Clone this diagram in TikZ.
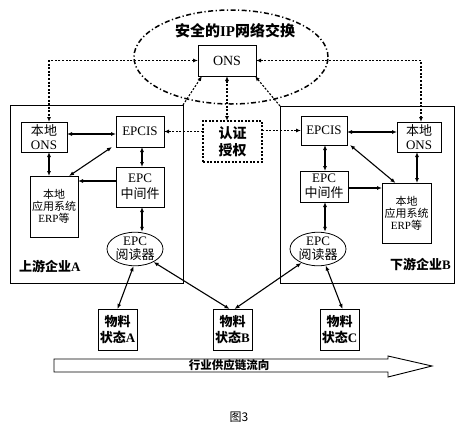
\documentclass[tikz,border=0pt]{standalone}
\usepackage{fontspec}
\setmainfont{Liberation Serif}
\newfontfamily\cjk{Noto Sans CJK SC}
\usetikzlibrary{arrows.meta,shapes.geometric}
\newcommand\zh[1]{{\cjk #1}}
\begin{document}
\begin{tikzpicture}[x=1pt,y=-1pt,
  box/.style={draw,line width=0.8pt,inner sep=0pt,outer sep=0pt,align=center,font=\fontsize{13}{14}\selectfont},
  frame/.style={draw,line width=0.8pt,inner sep=0pt,outer sep=0pt},
  dotl/.style={line width=1.1pt,dash pattern=on 2pt off 1.6pt},
  con/.style={line width=1.1pt},
  tip/.style={-{Latex[length=5pt,width=4pt]}},
  tips/.style={{Latex[length=5pt,width=4pt]}-{Latex[length=5pt,width=4pt]}},
  rd/.style={draw,ellipse,line width=0.8pt,inner sep=0pt,align=center,minimum width=56,minimum height=33,font=\fontsize{13}{14}\selectfont},
  mat/.style={box,minimum width=39,minimum height=41,font=\bfseries\fontsize{13}{16}\selectfont},
  lab/.style={font=\bfseries\fontsize{13}{15}\selectfont,inner sep=0pt}
]
\path[use as bounding box] (0,0) rectangle (457,429);
% enterprise frames
\node[frame,minimum width=173,minimum height=178] (entA) at (96.5,194) {};
\node[frame,minimum width=174,minimum height=177] (entB) at (367,194.5) {};
% network ellipse
\node[draw,ellipse,line width=1.5pt,dash pattern=on 5pt off 2.5pt on 1.2pt off 2.5pt,minimum width=194,minimum height=94] (net) at (231,57) {};
\node[font=\bfseries\fontsize{15}{17}\selectfont,inner sep=0pt] (ttl) at (235,31) {\zh{安全的}IP\zh{网络交换}};
\node[box,minimum width=58,minimum height=31,font=\fontsize{14}{15}\selectfont] (ONS) at (227,60.5) {ONS};
\node[box,dotl,minimum width=59,minimum height=41,font=\bfseries\fontsize{14}{17}\selectfont] (auth) at (232.5,141.5) {\zh{认证}\\\zh{授权}};
% enterprise A
\node[box,minimum width=46,minimum height=30] (onsA) at (44,137) {\zh{本地}\\ONS};
\node[box,minimum width=48,minimum height=31] (epcisA) at (140,131.5) {EPCIS};
\node[box,minimum width=48,minimum height=61,font=\fontsize{11}{12}\selectfont] (erpA) at (54,206.5) {\zh{本地}\\\zh{应用系统}\\ERP\zh{等}};
\node[box,minimum width=48,minimum height=40,font=\fontsize{13}{16}\selectfont] (mwA) at (140,187) {EPC\\\zh{中间件}};
\node[rd] (rdA) at (135,249) {EPC\\\zh{阅读器}};
\node[lab,anchor=west] (labA) at (19,266) {\zh{上游企业}A};
% enterprise B
\node[box,minimum width=46,minimum height=29] (epcisB) at (324,130.5) {EPCIS};
\node[box,minimum width=44,minimum height=30] (onsB) at (419,137) {\zh{本地}\\ONS};
\node[box,minimum width=49,minimum height=60,font=\fontsize{11}{12}\selectfont] (erpB) at (406.5,213) {\zh{本地}\\\zh{应用系统}\\ERP\zh{等}};
\node[box,minimum width=48,minimum height=31,font=\fontsize{13}{15}\selectfont] (mwB) at (324,186.5) {EPC\\\zh{中间件}};
\node[rd] (rdB) at (318,249) {EPC\\\zh{阅读器}};
\node[lab,anchor=east] (labB) at (451,264) {\zh{下游企业}B};
% materials
\node[mat] (matA) at (117.5,329.5) {\zh{物料}\\\zh{状态}A};
\node[mat] (matB) at (232.5,329.5) {\zh{物料}\\\zh{状态}B};
\node[mat] (matC) at (339.5,329.5) {\zh{物料}\\\zh{状态}C};
% supply chain arrow
\draw[line width=0.9pt] (54,359) -- (388,359) -- (388,356) -- (432,366) -- (388,377) -- (388,372) -- (54,372) -- cycle;
\node[font=\bfseries\fontsize{11.5}{13}\selectfont,inner sep=0pt] (flow) at (229,365.5) {\zh{行业供应链流向}};
\node[font=\fontsize{12}{13}\selectfont,inner sep=0pt] (cap) at (239,417) {\zh{图3}};
% dotted network links
\draw[dotl,tips] (ONS.west) -| ([xshift=5]onsA.north);
\draw[dotl,tips] (ONS.east) -| ([xshift=2]onsB.north);
\draw[dotl,tips] (ONS.south) -- (ONS.south |- auth.north);
\draw[dotl,tip] (entA.north east) -- ([xshift=4]ONS.south west);
\draw[dotl,tip] (entB.north west) -- ([xshift=-1]ONS.south east);
\draw[dotl,tip] (auth.west |- epcisA.east) -- (epcisA.east);
\draw[dotl,tip] (auth.east |- epcisB.west) -- (epcisB.west);
% enterprise A links
\draw[con,tips] ([yshift=3]onsA.east) -- ([yshift=3]onsA.east -| epcisA.west);
\draw[con,tips] ([xshift=5]onsA.south) -- ([xshift=5]onsA.south |- erpA.north);
\draw[con,tips] ([xshift=-4]epcisA.south west) -- ([xshift=-9]erpA.north east);
\draw[con,tip] ([yshift=6]mwA.west) -- ([yshift=6]mwA.west -| erpA.east);
\draw[con,tips] ([xshift=2]epcisA.south) -- ([xshift=2]mwA.north);
\draw[con,tips] ([xshift=2]mwA.south) -- ([xshift=2]mwA.south |- rdA.north);
% enterprise B links
\draw[con,tips] ([yshift=-1.5]epcisB.east) -- ([yshift=-1.5]epcisB.east -| onsB.west);
\draw[con,tips] ([xshift=-2]onsB.south) -- ([xshift=-2]onsB.south |- erpB.north);
\draw[con,tips] ([xshift=3]epcisB.south east) -- ([xshift=-11]erpB.north);
\draw[con,tip] ([yshift=-1.5]mwB.east) -- ([yshift=-1.5]mwB.east -| erpB.west);
\draw[con,tips] ([xshift=1]epcisB.south) -- ([xshift=1]mwB.north);
\draw[con,tips] ([xshift=1]mwB.south) -- ([xshift=1]mwB.south |- rdB.north);
% readers to materials
\draw[con,tips] (rdA.-95) -- (matA.north);
\draw[con,tips] (rdA.-35) -- ([xshift=-3]matB.north);
\draw[con,tips] (rdB.-140) -- ([xshift=2]matB.north);
\draw[con,tips] (rdB.-65) -- ([xshift=3]matC.north);
\end{tikzpicture}
\end{document}
